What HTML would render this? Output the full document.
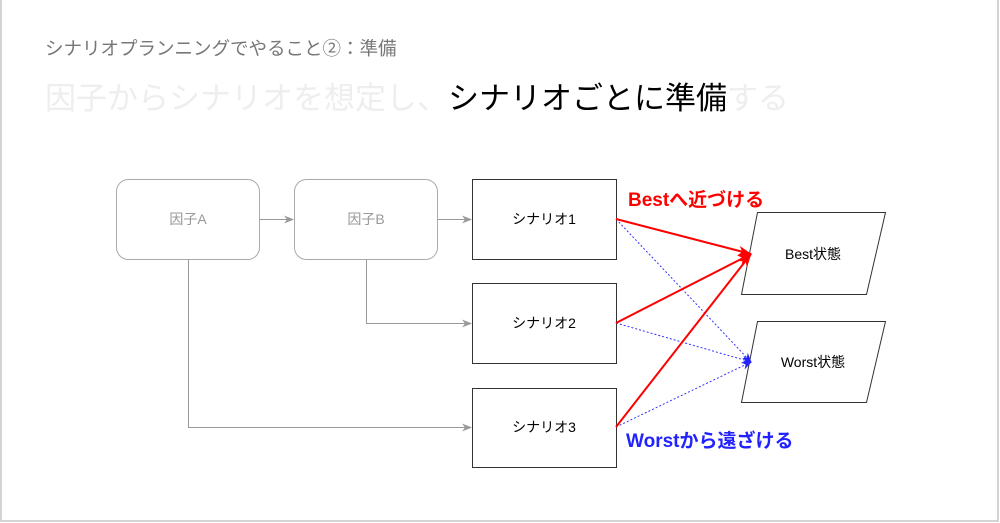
<!DOCTYPE html>
<html><head><meta charset="utf-8"><style>
body{margin:0;background:#fff;}
.wrap{position:relative;width:1000px;height:523px;overflow:hidden;font-family:"Liberation Sans","Noto Sans CJK JP",sans-serif;}
.t1{position:absolute;left:45px;top:35px;font-size:18.5px;color:#777;white-space:nowrap;}
.t2{position:absolute;left:45px;top:73px;font-size:31px;color:#eeeeee;white-space:nowrap;}
.t2 b{font-weight:normal;color:#000;}
</style></head><body><div class="wrap">
<svg width="1000" height="523" style="position:absolute;left:0;top:0">
<defs>
<marker id="g" markerWidth="10" markerHeight="8" refX="9" refY="4" orient="auto" markerUnits="userSpaceOnUse"><path d="M0,0 L10,4 L0,8 L3,4z" fill="#999"/></marker>
<marker id="r" markerWidth="14" markerHeight="10" refX="13" refY="5" orient="auto" markerUnits="userSpaceOnUse"><path d="M0,0 L14,5 L0,10 L4,5z" fill="#f00"/></marker>
<marker id="b" markerWidth="10" markerHeight="8" refX="9" refY="4" orient="auto" markerUnits="userSpaceOnUse"><path d="M0,0 L10,4 L0,8 L3,4z" fill="#22f"/></marker>
</defs>
<path d="M1,0 V521 H998 V0" fill="none" stroke="#d4d4d4" stroke-width="2"/>
<g fill="#fff" stroke="#aaa" stroke-width="1">
<rect x="116.5" y="179.5" width="143" height="80" rx="12"/>
<rect x="294.5" y="179.5" width="143" height="80" rx="12"/>
</g>
<g fill="#fff" stroke="#333" stroke-width="1">
<rect x="472.5" y="179.5" width="144" height="80"/>
<rect x="472.5" y="283.5" width="144" height="80"/>
<rect x="472.5" y="388.5" width="144" height="79"/>
<polygon points="757.5,212.5 885.5,212.5 866.5,294.5 741.5,294.5"/>
<polygon points="757.5,321.5 885.5,321.5 866.5,402.5 741.5,402.5"/>
</g>
<g stroke="#999" fill="none" stroke-width="1">
<line x1="259.5" y1="219.5" x2="293" y2="219.5" marker-end="url(#g)"/>
<line x1="437.5" y1="219.5" x2="471" y2="219.5" marker-end="url(#g)"/>
<path d="M366.5,259.5 V323.5 H471" marker-end="url(#g)"/>
<path d="M188.5,259.5 V427.5 H471" marker-end="url(#g)"/>
</g>
<g stroke="#33f" stroke-width="1" stroke-dasharray="2,2" fill="none">
<line x1="616" y1="219" x2="751" y2="362" marker-end="url(#b)"/>
<line x1="616" y1="323" x2="751" y2="362" marker-end="url(#b)"/>
<line x1="616" y1="427" x2="751" y2="362" marker-end="url(#b)"/>
</g>
<g stroke="#f00" stroke-width="2" fill="none">
<line x1="616" y1="219" x2="751" y2="254" marker-end="url(#r)"/>
<line x1="616" y1="323" x2="751" y2="254" marker-end="url(#r)"/>
<line x1="616" y1="427" x2="751" y2="254" marker-end="url(#r)"/>
</g>
<g font-family="Liberation Sans, Noto Sans CJK JP, sans-serif" font-size="14" text-anchor="middle">
<text x="188" y="224" fill="#999">因子A</text>
<text x="366" y="224" fill="#999">因子B</text>
<text x="544" y="224" fill="#000">シナリオ1</text>
<text x="544" y="328" fill="#000">シナリオ2</text>
<text x="544" y="432" fill="#000">シナリオ3</text>
<text x="813" y="259" fill="#000">Best状態</text>
<text x="813" y="367" fill="#000">Worst状態</text>
</g>
<text x="628" y="206" font-family="Liberation Sans, Noto Sans CJK JP, sans-serif" font-size="19" font-weight="bold" fill="#f00">Bestへ近づける</text>
<text x="626" y="447" font-family="Liberation Sans, Noto Sans CJK JP, sans-serif" font-size="19" font-weight="bold" fill="#22f">Worstから遠ざける</text>
</svg>
<div class="t1">シナリオプランニングでやること②：準備</div>
<div class="t2">因子からシナリオを想定し、<b>シナリオごとに準備</b>する</div>
</div></body></html>
